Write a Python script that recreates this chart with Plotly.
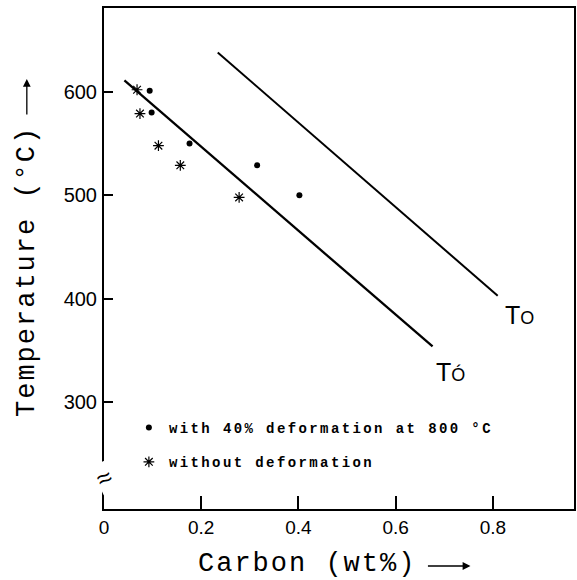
import plotly.graph_objects as go

# ---- data ----
carbon_deformed = [0.094, 0.098, 0.176, 0.315, 0.402]
temp_deformed = [601, 580, 550, 529, 500]

carbon_undeformed = [0.068, 0.074, 0.112, 0.157, 0.278]
temp_undeformed = [602, 579, 548, 529, 498]

t0_carbon = [0.234, 0.810]
t0_temp = [638, 403]

t0p_carbon = [0.042, 0.676]
t0p_temp = [611, 354]

x_ticks = [0, 0.2, 0.4, 0.6, 0.8]
x_ticklabels = ["0", "0.2", "0.4", "0.6", "0.8"]
y_ticks = [300, 400, 500, 600]
y_ticklabels = ["300", "400", "500", "600"]

label_deformed = "with 40% deformation at 800 °C"
label_undeformed = "without deformation"

MONO = "Liberation Mono, Courier New, monospace"
SANS = "Liberation Sans, Arial, sans-serif"

fig = go.Figure()

fig.add_trace(go.Scatter(x=t0_carbon, y=t0_temp, mode="lines",
                         line=dict(color="black", width=2), showlegend=False,
                         hoverinfo="skip"))
fig.add_trace(go.Scatter(x=t0p_carbon, y=t0p_temp, mode="lines",
                         line=dict(color="black", width=2.3), showlegend=False,
                         hoverinfo="skip"))

fig.add_trace(go.Scatter(
    x=carbon_deformed, y=temp_deformed, mode="markers",
    marker=dict(symbol="circle", size=6, color="black"),
    name='<span style="letter-spacing:2.4px">' + label_deformed + '</span>',
    legendgroup="a"))
fig.add_trace(go.Scatter(
    x=carbon_undeformed, y=temp_undeformed, mode="markers",
    marker=dict(symbol="asterisk", size=9, color="black",
                line=dict(color="black", width=1.2)),
    name='<span style="letter-spacing:2.4px">' + label_undeformed + '</span>',
    legendgroup="b"))

L, R, T, B = 104, 1, 8, 71
W, H = 577, 580
pw, ph = W - L - R, H - T - B


def px_x(p):
    return (p - L) / pw


def px_y(p):
    return (H - B - p) / ph


annotations = [
    dict(x=0.854, y=384.6, xref="x", yref="y",
         text='T<span style="font-size:18px">O</span>', showarrow=False,
         font=dict(family=SANS, size=25, color="black")),
    dict(x=0.713, y=329.5, xref="x", yref="y",
         text='T<span style="font-size:18px">Ó</span>', showarrow=False,
         font=dict(family=SANS, size=25, color="black")),
    # axis titles
    dict(x=px_x(308), y=px_y(564), xref="paper", yref="paper",
         xanchor="center", yanchor="middle",
         text='<span style="letter-spacing:2px">Carbon (wt%)</span>',
         showarrow=False, font=dict(family=MONO, size=27, color="black")),
    dict(x=px_x(26.7), y=px_y(272), xref="paper", yref="paper",
         xanchor="center", yanchor="middle",
         text='<span style="letter-spacing:2px">Temperature (°C)</span>',
         textangle=-90, showarrow=False,
         font=dict(family=MONO, size=27, color="black")),
    # arrows after the titles
    dict(x=px_x(472), y=px_y(566), xref="paper", yref="paper", text="",
         showarrow=True, ax=-44, ay=0, arrowhead=2, arrowsize=1.2,
         arrowwidth=1.3, arrowcolor="black"),
    dict(x=px_x(26.5), y=px_y(79), xref="paper", yref="paper", text="",
         showarrow=True, ax=0, ay=37, arrowhead=2, arrowsize=1.2,
         arrowwidth=1.3, arrowcolor="black"),
    # axis break
    dict(x=0, y=px_y(478), xref="x", yref="paper", text="≈",
         xanchor="center", yanchor="middle",
         showarrow=False, bgcolor="white", borderpad=0,
         font=dict(family=SANS, size=26, color="black"), textangle=-25),
]

fig.update_layout(
    width=W, height=H,
    margin=dict(l=L, r=R, t=T, b=B, pad=0),
    paper_bgcolor="white", plot_bgcolor="white",
    showlegend=True,
    legend=dict(x=px_x(129), y=px_y(412), xanchor="left", yanchor="top",
                bgcolor="rgba(0,0,0,0)", borderwidth=0,
                font=dict(family=MONO, size=14, color="black", weight="bold"),
                tracegroupgap=13, itemwidth=30),
    annotations=annotations,
    xaxis=dict(range=[0, 0.967], tickmode="array", tickvals=x_ticks,
               ticktext=x_ticklabels, ticks="inside", ticklen=13, tickwidth=1.5,
               tickcolor="black", showline=True, linecolor="black", linewidth=2,
               mirror=True, showgrid=False, zeroline=False,
               tickfont=dict(family=SANS, size=19, color="black"),
               ticklabelstandoff=0),
    yaxis=dict(range=[197, 681], tickmode="array", tickvals=y_ticks,
               ticktext=y_ticklabels, ticks="inside", ticklen=9, tickwidth=1.5,
               tickcolor="black", showline=True, linecolor="black", linewidth=2,
               mirror=True, showgrid=False, zeroline=False,
               tickfont=dict(family=SANS, size=20, color="black"),
               ticklabelstandoff=1),
)

fig.write_html("out.html")
